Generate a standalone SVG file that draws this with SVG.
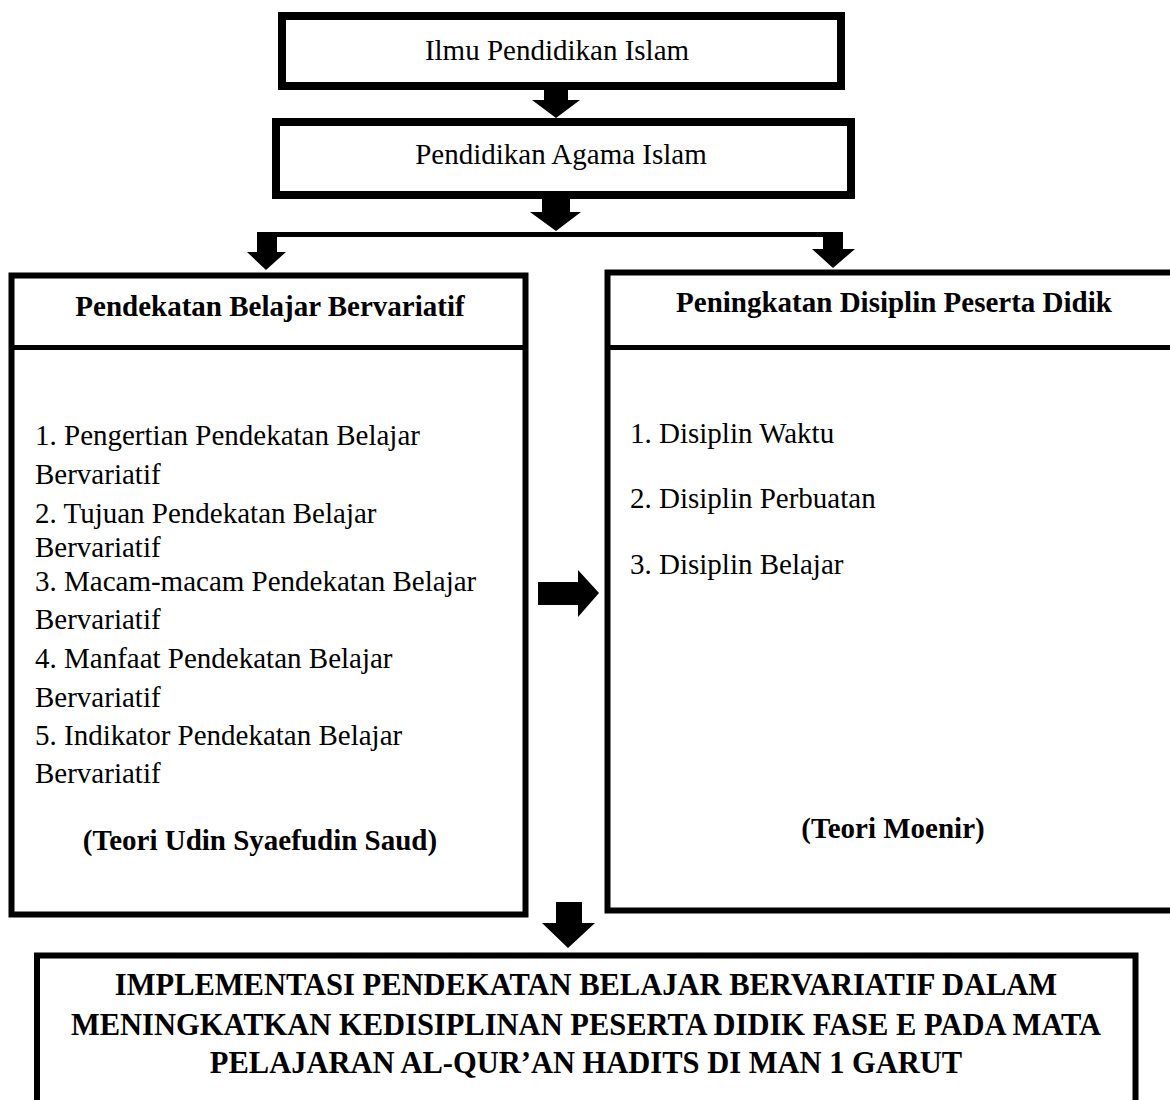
<svg xmlns="http://www.w3.org/2000/svg" width="1170" height="1100" viewBox="0 0 1170 1100">
<style>
.box{fill:none;stroke:#000;stroke-linejoin:miter}
.t{font-family:"Liberation Serif","Times New Roman",serif;font-size:29px;fill:#000}
.b{font-weight:bold}
.c{text-anchor:middle}
.big{font-size:30.5px}
.arr{fill:#000;stroke:none}
</style>
<rect width="1170" height="1100" fill="#fff"/>
<g id="node-ilmu">
<rect class="box" x="282" y="16" width="559" height="70" stroke-width="8"/>
<text class="t c" x="557" y="60">Ilmu Pendidikan Islam</text>
</g>
<g id="node-pai">
<rect class="box" x="276" y="122" width="575" height="73" stroke-width="8"/>
<text class="t c" x="561" y="164">Pendidikan Agama Islam</text>
</g>
<g id="node-pendekatan">
<rect class="box" x="11.5" y="275.5" width="514" height="639" stroke-width="6"/>
<line class="box" x1="11.5" y1="347.5" x2="525.5" y2="347.5" stroke-width="5"/>
<text class="t b c" x="270" y="316">Pendekatan Belajar Bervariatif</text>
<text class="t" x="35" y="445">1. Pengertian Pendekatan Belajar</text>
<text class="t" x="35" y="484">Bervariatif</text>
<text class="t" x="35" y="523">2. Tujuan Pendekatan Belajar</text>
<text class="t" x="35" y="557">Bervariatif</text>
<text class="t" x="35" y="591">3. Macam-macam Pendekatan Belajar</text>
<text class="t" x="35" y="629">Bervariatif</text>
<text class="t" x="35" y="668">4. Manfaat Pendekatan Belajar</text>
<text class="t" x="35" y="707">Bervariatif</text>
<text class="t" x="35" y="745">5. Indikator Pendekatan Belajar</text>
<text class="t" x="35" y="783">Bervariatif</text>
<text class="t b c" x="260" y="850">(Teori Udin Syaefudin Saud)</text>
</g>
<g id="node-disiplin">
<rect class="box" x="607.5" y="272.5" width="580" height="638" stroke-width="6"/>
<line class="box" x1="607.5" y1="347.5" x2="1175" y2="347.5" stroke-width="5"/>
<text class="t b c" x="894" y="312">Peningkatan Disiplin Peserta Didik</text>
<text class="t" x="630" y="443">1. Disiplin Waktu</text>
<text class="t" x="630" y="508">2. Disiplin Perbuatan</text>
<text class="t" x="630" y="574">3. Disiplin Belajar</text>
<text class="t b c" x="893" y="838">(Teori Moenir)</text>
</g>
<g id="node-implementasi">
<rect class="box" x="37" y="955.5" width="1098.5" height="160" stroke-width="6"/>
<text class="t b c big" x="586" y="995">IMPLEMENTASI PENDEKATAN BELAJAR BERVARIATIF DALAM</text>
<text class="t b c big" x="586" y="1035">MENINGKATKAN KEDISIPLINAN PESERTA DIDIK FASE E PADA MATA</text>
<text class="t b c big" x="586" y="1073">PELAJARAN AL-QUR’AN HADITS DI MAN 1 GARUT</text>
</g>
<g id="connectors">
<polygon class="arr" points="544,90 568,90 568,100 580,100 556,118 532,100 544,100"/>
<polygon class="arr" points="542,199 570,199 570,212 581,212 556,231 530,212 542,212"/>
<rect class="arr" x="257" y="232" width="586" height="5"/>
<polygon class="arr" points="257,232 277,232 277,252 286,252 266,270 247,252 257,252"/>
<polygon class="arr" points="823,232 843,232 843,249 855,249 833,268 812,249 823,249"/>
<polygon class="arr" points="538,582 578,582 578,570 599,593 578,617 578,605 538,605"/>
<polygon class="arr" points="556,902 582,902 582,923 595,923 568,948 542,923 556,923"/>
</g>
</svg>
